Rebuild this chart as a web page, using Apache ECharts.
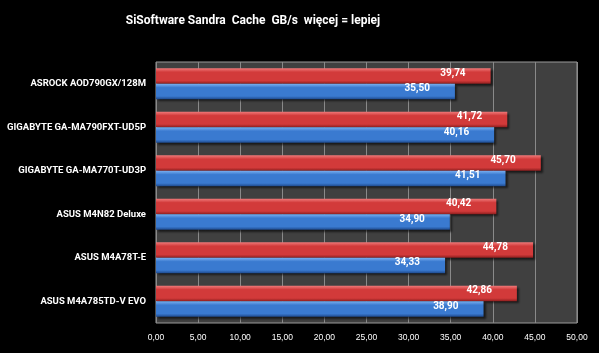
<!DOCTYPE html>
<html>
<head>
<meta charset="utf-8">
<script src="https://cdn.jsdelivr.net/npm/echarts@6/dist/echarts.min.js"></script>
<style>
  html, body { margin: 0; padding: 0; background: #000; }
  #chart { width: 599px; height: 353px; }
</style>
</head>
<body>
<div id="chart"></div>
<script>
  const boards = ['ASROCK AOD790GX/128M', 'GIGABYTE GA-MA790FXT-UD5P', 'GIGABYTE GA-MA770T-UD3P',
    'ASUS M4N82 Deluxe', 'ASUS M4A78T-E', 'ASUS M4A785TD-V EVO'];
  const redValues = [39.74, 41.72, 45.70, 40.42, 44.78, 42.86];
  const blueValues = [35.50, 40.16, 41.51, 34.90, 34.33, 38.90];
  const xTicks = [0, 5, 10, 15, 20, 25, 30, 35, 40, 45, 50];

  const fmt = v => v.toFixed(2).replace('.', ',');

  const grad = (top, mid, bot) => new echarts.graphic.LinearGradient(0, 0, 0, 1, [
    { offset: 0, color: top },
    { offset: 0.25, color: mid },
    { offset: 0.8, color: mid },
    { offset: 1, color: bot },
  ]);

  const labelStyle = {
    show: true,
    position: 'insideRight',
    distance: 25,
    offset: [0, -3],
    color: '#fff',
    fontSize: 10,
    fontWeight: 'bold',
    fontFamily: 'Roboto',
    formatter: p => fmt(p.value),
  };

  let myChart = echarts.init(document.getElementById('chart'));
  myChart.setOption({
    backgroundColor: '#000',
    animation: false,
    title: {
      text: 'SiSoftware Sandra  Cache  GB/s  więcej = lepiej',
      left: 248,
      top: 10,
      textAlign: 'center',
      textStyle: { color: '#fff', fontSize: 12, fontWeight: 'bold', fontFamily: 'Roboto' },
    },
    grid: {
      left: 156, right: 22, top: 62, bottom: 30,
      outerBoundsMode: 'none',
      show: true, backgroundColor: '#404040', borderColor: '#9a9a9a', borderWidth: 1,
    },
    xAxis: {
      type: 'value',
      min: 0,
      max: 50,
      interval: 5,
      axisLine: { show: false },
      axisTick: { show: false },
      splitLine: { show: true, lineStyle: { color: '#8a8a8a', width: 1 } },
      axisLabel: {
        color: '#fff', fontSize: 8.5, fontFamily: 'Liberation Sans', margin: 10,
        formatter: v => xTicks.includes(v) ? fmt(v) : '',
      },
    },
    yAxis: {
      type: 'category',
      data: boards,
      inverse: true,
      axisLine: { show: false },
      axisTick: { show: false },
      axisLabel: { color: '#fff', fontSize: 9.5, fontWeight: 'bold', fontFamily: 'Roboto', margin: 10 },
    },
    series: [
      {
        name: 'red',
        type: 'bar',
        data: redValues,
        barWidth: 15.5,
        barGap: '0%',
        itemStyle: {
          color: grad('#f07a7a', '#d23a3a', '#8e1e1e'),
          shadowColor: 'rgba(0,0,0,0.6)', shadowOffsetX: 2, shadowOffsetY: 2, shadowBlur: 2,
        },
        label: labelStyle,
      },
      {
        name: 'blue',
        type: 'bar',
        data: blueValues,
        barWidth: 15.5,
        barGap: '0%',
        itemStyle: {
          color: grad('#7ab0f0', '#3a7ad0', '#1e4a8e'),
          shadowColor: 'rgba(0,0,0,0.6)', shadowOffsetX: 2, shadowOffsetY: 2, shadowBlur: 2,
        },
        label: labelStyle,
      },
    ],
  });
</script>
</body>
</html>
